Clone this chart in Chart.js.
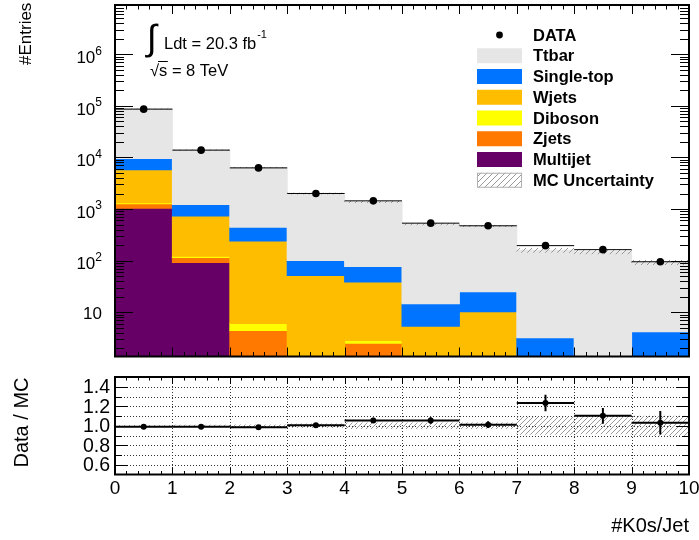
<!DOCTYPE html>
<html>
<head>
<meta charset="utf-8">
<script src="https://cdn.jsdelivr.net/npm/chart.js@4/dist/chart.umd.min.js"></script>
<style>
  html, body { margin: 0; padding: 0; background: #fff; }
  #wrap { position: relative; width: 699px; height: 540px; overflow: hidden; background: #fff; }
  #wrap canvas { position: absolute; left: 0; top: 0; }
</style>
</head>
<body>
<div id="wrap">
  <canvas id="main" width="699" height="540"></canvas>
  <canvas id="ratio" width="699" height="540"></canvas>
</div>
<script>
// ---- histogram contents (number of K0s per jet, 10 bins of width 1) ----
const binCenters = [0.5, 1.5, 2.5, 3.5, 4.5, 5.5, 6.5, 7.5, 8.5, 9.5];
const ttbar     = [78000, 12800, 5930, 1890, 1290, 490, 443, 155, 148, 88];
const singleTop = [3700, 490, 202, 49, 38.7, 9.25, 14.7, 3.18, 0, 4.16];
const wjets     = [4470, 610, 233, 51.6, 35.5, 5.35, 10.2, 0, 0, 0];
const diboson   = [60, 6, 1.6, 0, 0.32, 0, 0, 0, 0, 0];
const zjets     = [240, 23, 4.4, 0, 2.5, 0, 0, 0, 0, 0];
const multijet  = [1030, 92, 0, 0, 0, 0, 0, 0, 0, 0];
const dataCounts = [86600, 13880, 6275, 2003, 1441, 532, 473, 195, 163, 95];
// statistical error on Data/MC and relative MC uncertainty per bin
const ratioErr  = [0.004, 0.009, 0.013, 0.022, 0.027, 0.034, 0.034, 0.085, 0.08, 0.12];
const mcRelUnc  = [0.005, 0.007, 0.01, 0.02, 0.03, 0.03, 0.03, 0.09, 0.085, 0.1];

// ---- axis ticks ----
const xTickValues = [0, 1, 2, 3, 4, 5, 6, 7, 8, 9, 10];
const xTickLabels = ['0', '1', '2', '3', '4', '5', '6', '7', '8', '9', '10'];
const yTickValues = [10, 1e2, 1e3, 1e4, 1e5, 1e6];
const yTickExps   = ['', '2', '3', '4', '5', '6'];
const rTickValues = [0.6, 0.8, 1.0, 1.2, 1.4];
const rTickLabels = ['0.6', '0.8', '1.0', '1.2', '1.4'];

const X_MIN = 0, X_MAX = 10;
const Y_MIN = 1.38, Y_MAX = 9.06e6;
const R_MIN = 0.5, R_MAX = 1.5;
const FONT = "'Liberation Sans', Arial, Helvetica, sans-serif";

// ---- stack (bottom to top) ----
const stackOrder = [
  { label: 'Multijet',   values: multijet,  color: '#660066' },
  { label: 'Zjets',      values: zjets,     color: '#ff7800' },
  { label: 'Diboson',    values: diboson,   color: '#ffff00' },
  { label: 'Wjets',      values: wjets,     color: '#ffbd00' },
  { label: 'Single-top', values: singleTop, color: '#0074ff' },
  { label: 'Ttbar',      values: ttbar,     color: '#e6e6e6' }
];

// the log axis cannot take 0, so an empty stack starts at the axis minimum
const mcTotal = binCenters.map(() => 0);
const stackSets = stackOrder.map(c => {
  const pts = binCenters.map((x, i) => {
    const lo = mcTotal[i];
    mcTotal[i] += c.values[i];
    const hi = mcTotal[i];
    return { x: x, y: hi > 0 ? [lo > 0 ? lo : Y_MIN, hi] : null };
  });
  return {
    type: 'bar', label: c.label, data: pts, backgroundColor: c.color,
    borderWidth: 0, grouped: false, barPercentage: 1, categoryPercentage: 1,
    inflateAmount: 0.5, clip: 0, order: 2, legendStyle: 'box'
  };
});
const ratio = dataCounts.map((d, i) => d / mcTotal[i]);

function makeHatch(ctx, step, color) {
  const c = document.createElement('canvas');
  c.width = step; c.height = step;
  const g = c.getContext('2d');
  g.strokeStyle = color; g.lineWidth = 1;
  g.beginPath();
  g.moveTo(0, step); g.lineTo(step, 0);
  g.moveTo(-1, 1); g.lineTo(1, -1);
  g.moveTo(step - 1, step + 1); g.lineTo(step + 1, step - 1);
  g.stroke();
  return ctx.createPattern(c, 'repeat');
}

const mainCanvas = document.getElementById('main');
const ratioCanvas = document.getElementById('ratio');
const mainHatch = makeHatch(mainCanvas.getContext('2d'), 6, '#9a9a9a');
const ratioHatch = makeHatch(ratioCanvas.getContext('2d'), 5, '#9a9a9a');

// ---- plugins ----
// ROOT-like frame with ticks on all four sides
const rootFrame = {
  id: 'rootFrame',
  beforeDatasetsDraw(chart, args, o) {
    if (!o.grid) return;
    const { ctx, chartArea: a, scales: { x, y } } = chart;
    ctx.save();
    ctx.strokeStyle = '#333'; ctx.lineWidth = 1; ctx.setLineDash([1, 2]);
    ctx.beginPath();
    for (let k = 1; k < 10; k++) {
      const px = Math.round(x.getPixelForValue(k)) + 0.5;
      ctx.moveTo(px, a.top); ctx.lineTo(px, a.bottom);
    }
    for (let k = 6; k <= 14; k++) {
      const py = Math.round(y.getPixelForValue(k / 10)) + 0.5;
      ctx.moveTo(a.left, py); ctx.lineTo(a.right, py);
    }
    ctx.stroke();
    ctx.restore();
  },
  afterDatasetsDraw(chart, args, o) {
    const { ctx, chartArea: a, scales: { x, y } } = chart;
    ctx.save();
    ctx.strokeStyle = '#000'; ctx.lineWidth = 1;
    ctx.beginPath();
    for (let k = 0; k <= 50; k++) {
      const px = Math.round(x.getPixelForValue(k / 5)) + 0.5;
      const len = (k % 5 === 0) ? o.xMajor : o.xMinor;
      ctx.moveTo(px, a.bottom); ctx.lineTo(px, a.bottom - len);
      ctx.moveTo(px, a.top); ctx.lineTo(px, a.top + len);
    }
    o.yTicks(y).forEach(t => {
      const py = Math.round(y.getPixelForValue(t.v)) + 0.5;
      const len = t.major ? o.yMajor : o.yMinor;
      ctx.moveTo(a.left, py); ctx.lineTo(a.left + len, py);
      ctx.moveTo(a.right, py); ctx.lineTo(a.right - len, py);
    });
    ctx.stroke();
    ctx.lineWidth = 2;
    ctx.strokeRect(a.left, a.top, a.right - a.left, a.bottom - a.top);
    ctx.restore();
  }
};

// data points: bin-width bars and vertical error bars
const errorBars = {
  id: 'errorBars',
  afterDatasetsDraw(chart) {
    const { ctx, scales: { x, y } } = chart;
    chart.data.datasets.forEach(ds => {
      const eb = ds.errorBars;
      if (!eb) return;
      ctx.save();
      ctx.strokeStyle = '#000'; ctx.lineWidth = eb.lineWidth;
      ds.data.forEach((p, i) => {
        const px = x.getPixelForValue(p.x);
        const py = y.getPixelForValue(p.y);
        ctx.beginPath();
        ctx.moveTo(x.getPixelForValue(p.x - eb.halfWidth), py);
        ctx.lineTo(x.getPixelForValue(p.x + eb.halfWidth), py);
        ctx.moveTo(px, y.getPixelForValue(p.y - eb.err[i]));
        ctx.lineTo(px, y.getPixelForValue(p.y + eb.err[i]));
        ctx.stroke();
      });
      ctx.restore();
    });
  }
};

// legend box in the upper right of the main pad
const legendBox = {
  id: 'legendBox',
  afterDraw(chart, args, o) {
    const ctx = chart.ctx;
    ctx.save();
    ctx.font = 'bold 16.5px ' + FONT;
    ctx.textBaseline = 'middle';
    ctx.textAlign = 'left';
    chart.data.datasets.forEach((ds, i) => {
      const cy = o.y0 + i * o.dy;
      if (ds.legendStyle === 'marker') {
        ctx.fillStyle = '#000';
        ctx.beginPath(); ctx.arc(o.x0 + o.w / 2, cy, 3.4, 0, Math.PI * 2); ctx.fill();
      } else if (ds.legendStyle === 'hatch') {
        ctx.fillStyle = mainHatch;
        ctx.fillRect(o.x0, cy - o.h / 2, o.w, o.h);
        ctx.strokeStyle = '#b0b0b0'; ctx.lineWidth = 1;
        ctx.strokeRect(o.x0 + 0.5, cy - o.h / 2 + 0.5, o.w - 1, o.h - 1);
      } else {
        ctx.fillStyle = ds.backgroundColor;
        ctx.fillRect(o.x0, cy - o.h / 2, o.w, o.h);
      }
      ctx.fillStyle = '#000';
      ctx.fillText(ds.label, o.tx, cy + 1);
    });
    ctx.restore();
  }
};

// axis labels and text of the main pad
const mainText = {
  id: 'mainText',
  afterDraw(chart) {
    const { ctx, scales: { y } } = chart;
    ctx.save();
    ctx.fillStyle = '#000';
    ctx.textBaseline = 'middle';
    // y tick labels 10^n
    yTickValues.forEach((v, i) => {
      const py = y.getPixelForValue(v);
      const right = 102;
      if (yTickExps[i]) {
        ctx.font = '12px ' + FONT;
        ctx.textAlign = 'right';
        const ew = ctx.measureText(yTickExps[i]).width;
        ctx.fillText(yTickExps[i], right, py - 3);
        ctx.font = '17px ' + FONT;
        ctx.fillText('10', right - ew, py + 4);
      } else {
        ctx.font = '17px ' + FONT;
        ctx.textAlign = 'right';
        ctx.fillText('10', right, py + 2);
      }
    });
    // y title
    ctx.save();
    ctx.translate(26, 65);
    ctx.rotate(-Math.PI / 2);
    ctx.font = '17px ' + FONT;
    ctx.textAlign = 'left';
    ctx.fillText('#Entries', 0, 0);
    ctx.restore();
    // luminosity and energy
    ctx.textAlign = 'left';
    ctx.font = '36px ' + FONT;
    ctx.fillText('\u222B', 147, 40);
    ctx.font = '16.5px ' + FONT;
    const lumi = 'Ldt = 20.3 fb';
    ctx.fillText(lumi, 164, 44);
    const lw = ctx.measureText(lumi).width;
    ctx.font = '11px ' + FONT;
    ctx.fillText('-1', 164 + lw + 1, 35);
    ctx.font = '16.5px ' + FONT;
    ctx.fillText('\u221As = 8 TeV', 150, 71);
    const rw = ctx.measureText('\u221A').width;
    const sw = ctx.measureText('s').width;
    ctx.strokeStyle = '#000'; ctx.lineWidth = 1;
    ctx.beginPath();
    ctx.moveTo(150 + rw - 1, 61.5); ctx.lineTo(150 + rw + sw + 0.5, 61.5);
    ctx.stroke();
    ctx.restore();
  }
};

// axis labels of the ratio pad
const ratioText = {
  id: 'ratioText',
  afterDraw(chart) {
    const { ctx, scales: { x, y } } = chart;
    ctx.save();
    ctx.fillStyle = '#000';
    ctx.textBaseline = 'middle';
    ctx.font = '19.5px ' + FONT;
    ctx.textAlign = 'right';
    rTickValues.forEach((v, i) => ctx.fillText(rTickLabels[i], 110, y.getPixelForValue(v) + 1));
    ctx.font = '19px ' + FONT;
    ctx.textAlign = 'center';
    xTickValues.forEach((v, i) => ctx.fillText(xTickLabels[i], x.getPixelForValue(v), 489));
    ctx.font = '20px ' + FONT;
    ctx.textAlign = 'right';
    ctx.fillText('#K0s/Jet', 689, 526);
    ctx.save();
    ctx.translate(22, 422.5);
    ctx.rotate(-Math.PI / 2);
    ctx.textAlign = 'center';
    ctx.fillText('Data / MC', 0, 0);
    ctx.restore();
    ctx.restore();
  }
};

function logTicks() {
  const t = [];
  for (let e = 0; e <= 6; e++) {
    for (let m = 1; m <= 9; m++) {
      const v = m * Math.pow(10, e);
      if (v >= Y_MIN && v <= Y_MAX) t.push({ v: v, major: m === 1 });
    }
  }
  return t;
}
function ratioTicks() {
  const t = [];
  for (let k = 6; k <= 14; k++) t.push({ v: k / 10, major: k % 2 === 0 });
  return t;
}

// ---- main pad ----
const mainSets = [
  {
    type: 'line', label: 'DATA', showLine: false, order: 0, legendStyle: 'marker',
    data: binCenters.map((x, i) => ({ x: x, y: dataCounts[i] })),
    pointRadius: 3.8, pointBackgroundColor: '#000', pointBorderWidth: 0, clip: 0,
    errorBars: { halfWidth: 0.5, lineWidth: 1, err: dataCounts.map((d, i) => d * ratioErr[i] / ratio[i]) }
  },
  ...stackSets.slice().reverse(),
  {
    type: 'bar', label: 'MC Uncertainty', order: 1, legendStyle: 'hatch',
    data: binCenters.map((x, i) => ({ x: x, y: [mcTotal[i] * (1 - mcRelUnc[i]), mcTotal[i] * (1 + mcRelUnc[i])] })),
    backgroundColor: mainHatch, borderWidth: 0, grouped: false,
    barPercentage: 1, categoryPercentage: 1, clip: 0
  }
];

new Chart(mainCanvas, {
  type: 'bar',
  data: { datasets: mainSets },
  options: {
    responsive: false, animation: false, devicePixelRatio: 1, events: [],
    layout: { padding: { left: 115, right: 10, top: 5, bottom: 183.5 } },
    plugins: {
      legend: { display: false }, tooltip: { enabled: false },
      rootFrame: { xMajor: 9, xMinor: 4.5, yMajor: 18, yMinor: 9, yTicks: logTicks },
      legendBox: { x0: 477, w: 45, h: 15, tx: 533, y0: 35, dy: 20.75 }
    },
    scales: {
      x: { type: 'linear', min: X_MIN, max: X_MAX, offset: false, display: false, bounds: 'data',
           ticks: { stepSize: 1 }, grid: { offset: false } },
      y: { type: 'logarithmic', min: Y_MIN, max: Y_MAX, display: false, bounds: 'data' }
    }
  },
  plugins: [rootFrame, errorBars, legendBox, mainText]
});

// ---- ratio pad ----
const ratioSets = [
  {
    type: 'line', label: 'Data / MC', showLine: false, order: 0,
    data: binCenters.map((x, i) => ({ x: x, y: ratio[i] })),
    pointRadius: 3, pointBackgroundColor: '#000', pointBorderWidth: 0, clip: 0,
    errorBars: { halfWidth: 0.5, lineWidth: 2, err: ratioErr }
  },
  {
    type: 'bar', label: 'MC Uncertainty', order: 1,
    data: binCenters.map((x, i) => ({ x: x, y: [1 - mcRelUnc[i], 1 + mcRelUnc[i]] })),
    backgroundColor: ratioHatch, borderWidth: 0, grouped: false,
    barPercentage: 1, categoryPercentage: 1, clip: 0
  }
];

new Chart(ratioCanvas, {
  type: 'bar',
  data: { datasets: ratioSets },
  options: {
    responsive: false, animation: false, devicePixelRatio: 1, events: [],
    layout: { padding: { left: 115, right: 10, top: 377, bottom: 65.5 } },
    plugins: {
      legend: { display: false }, tooltip: { enabled: false },
      rootFrame: { grid: true, xMajor: 7, xMinor: 3.5, yMajor: 13, yMinor: 7, yTicks: ratioTicks }
    },
    scales: {
      x: { type: 'linear', min: X_MIN, max: X_MAX, offset: false, display: false, bounds: 'data',
           ticks: { stepSize: 1 }, grid: { offset: false } },
      y: { type: 'linear', min: R_MIN, max: R_MAX, display: false, beginAtZero: false, bounds: 'data' }
    }
  },
  plugins: [rootFrame, errorBars, ratioText]
});
</script>
</body>
</html>
